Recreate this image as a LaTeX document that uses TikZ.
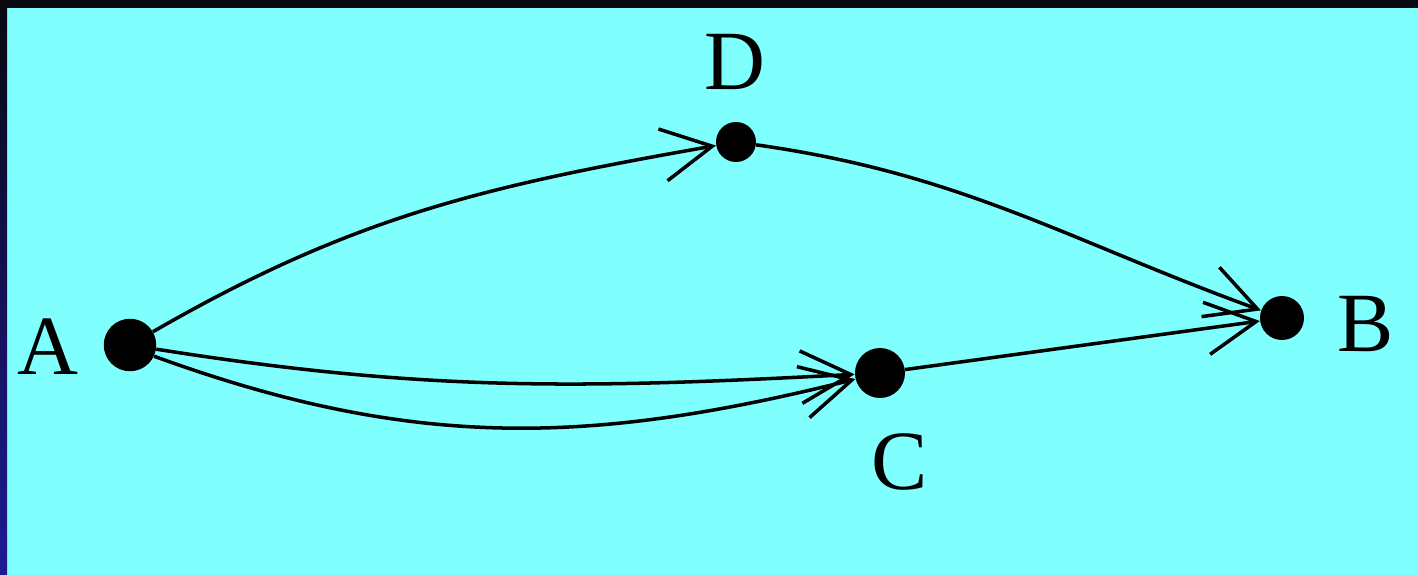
\documentclass[tikz,border=0pt]{standalone}
\usepackage{fontspec}
\setmainfont{Liberation Serif}
\usetikzlibrary{positioning, arrows.meta}
\definecolor{bgcyan}{HTML}{80FFFF}
\definecolor{stripd}{HTML}{08080F}
\definecolor{stripb}{HTML}{1E1A96}
\tikzset{
  vertex/.style={circle, fill=black, inner sep=0pt, minimum size=#1},
  vertex/.default=1cm,
  vlabel/.style={inner sep=0pt, font=\fontsize{48}{48}\selectfont},
  parr/.style={-{Straight Barb[length=1cm, width=1.05cm, line width=2pt]},
               line width=2pt},
}

\begin{document}
\begin{tikzpicture}[x=0.02cm, y=-0.02cm]

  % --- frame and background ------------------------------------------
  \useasboundingbox (0,0) rectangle (1418,575);
  \fill[bgcyan] (0,0) rectangle (1418,575);
  \shade[top color=stripd, bottom color=stripb] (0,0) rectangle (7,575);
  \fill[stripd] (0,0) rectangle (1418,8);

  % --- vertices --------------------------------------------------------
  \node[vertex=1.05cm] (A) at (130,345) {};
  \node[vertex=0.8cm]  (D) at (736,142) {};
  \node[vertex=1cm]    (C) at (880,373) {};
  \node[vertex=0.88cm] (B) at (1282,318) {};

  \node[vlabel] (lA) at (48,347)  {A};
  \node[vlabel] (lD) at (735,62)  {D};
  \node[vlabel] (lC) at (900,462) {C};
  \node[vlabel] (lB) at (1366,324) {B};

  % --- arcs ------------------------------------------------------------
  \draw[parr] (A) to[out=30, in=190] (D);
  \draw[parr] (D) to[out=-8, in=160] (B);
  \draw[parr] (A) to[out=-9, in=183] (C);
  \draw[parr] (A.-25) to[out=-20, in=194] (C);
  \draw[parr] (C) -- (B);

\end{tikzpicture}
\end{document}
